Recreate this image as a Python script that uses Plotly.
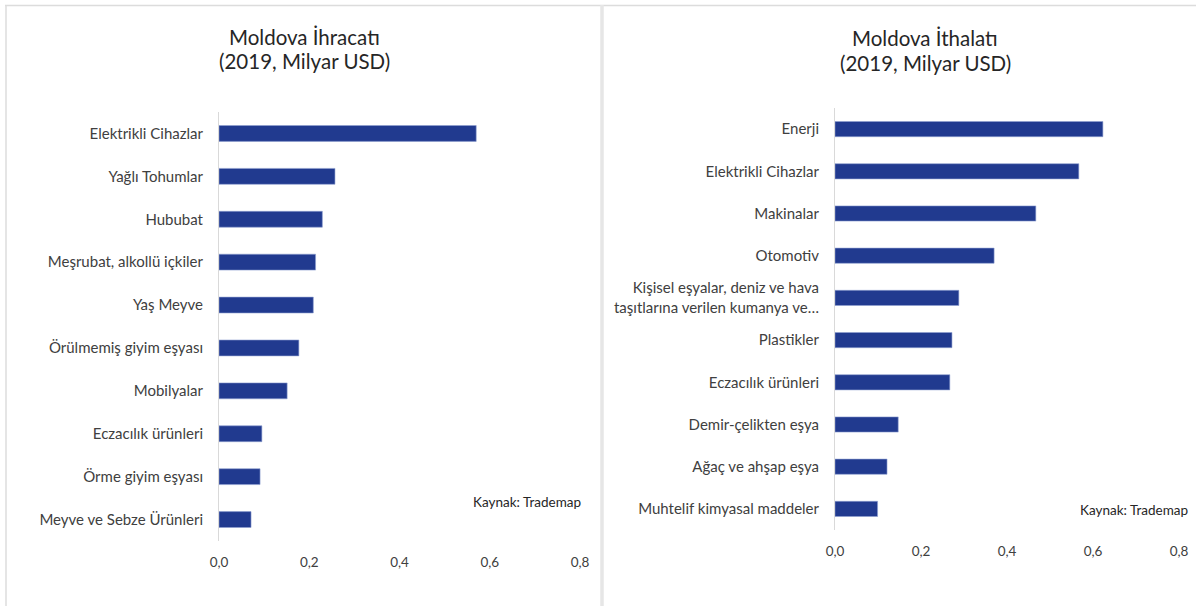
import plotly.graph_objects as go

W, H = 1196, 606

exp_categories = ["Elektrikli Cihazlar", "Yağlı Tohumlar", "Hububat", "Meşrubat, alkollü içkiler",
                  "Yaş Meyve", "Örülmemiş giyim eşyası", "Mobilyalar", "Eczacılık ürünleri",
                  "Örme giyim eşyası", "Meyve ve Sebze Ürünleri"]
exp_values = [0.570, 0.257, 0.229, 0.214, 0.209, 0.177, 0.151, 0.095, 0.091, 0.071]

imp_categories = ["Enerji", "Elektrikli Cihazlar", "Makinalar", "Otomotiv",
                  "Kişisel eşyalar, deniz ve hava<br>taşıtlarına verilen kumanya ve…",
                  "Plastikler", "Eczacılık ürünleri", "Demir-çelikten eşya",
                  "Ağaç ve ahşap eşya", "Muhtelif kimyasal maddeler"]
imp_values = [0.623, 0.567, 0.467, 0.370, 0.288, 0.272, 0.267, 0.147, 0.121, 0.099]

x_ticks = [0.0, 0.2, 0.4, 0.6, 0.8]

BAR = "#213a8f"
FONT = "Lato"
TXT = "#404040"

def px(x):
    return x / W

def py(y):
    return 1 - y / H

fig = go.Figure()
fig.add_trace(go.Bar(x=exp_values, y=exp_categories, orientation="h",
                     marker=dict(color=BAR, line=dict(color="#8fa0d0", width=0.6)),
                     width=0.37, xaxis="x", yaxis="y", showlegend=False))
fig.add_trace(go.Bar(x=imp_values, y=imp_categories, orientation="h",
                     marker=dict(color=BAR, line=dict(color="#8fa0d0", width=0.6)),
                     width=0.36, xaxis="x2", yaxis="y2", showlegend=False))

xcommon = dict(range=[0, 0.8], tickvals=x_ticks, tickformat=".1f", showgrid=False,
               zeroline=False, showline=False, ticks="", fixedrange=True, automargin=False,
               ticklabelstandoff=11,
               tickfont=dict(family=FONT, size=13.5, color=TXT))
ycommon = dict(autorange="reversed", showgrid=False, zeroline=False, showline=True,
               linecolor="#d9d9d9", linewidth=1, ticks="", ticklabelstandoff=12,
               automargin=False, fixedrange=True,
               tickfont=dict(family=FONT, size=15, color=TXT))

fig.update_layout(
    width=W, height=H, margin=dict(l=0, r=0, t=0, b=0, pad=0),
    paper_bgcolor="white", plot_bgcolor="white", separators=",.",
    xaxis=dict(domain=[px(219), px(580)], anchor="y", **xcommon),
    yaxis=dict(domain=[py(541), py(112)], anchor="x", **ycommon),
    xaxis2=dict(domain=[px(835), px(1179)], anchor="y2", **xcommon),
    yaxis2=dict(domain=[py(530), py(108)], anchor="x2", **ycommon),
    bargap=0.6,
)

annos = [
    dict(x=px(304), y=py(37), text="Moldova İhracatı", size=20.5),
    dict(x=px(304), y=py(61), text="(2019, Milyar USD)", size=20.5),
    dict(x=px(925), y=py(38), text="Moldova İthalatı", size=20.5),
    dict(x=px(925), y=py(63), text="(2019, Milyar USD)", size=20.5),
    dict(x=px(527), y=py(502), text="Kaynak: Trademap", size=13.5),
    dict(x=px(1134), y=py(510), text="Kaynak: Trademap", size=13.5),
]
for a in annos:
    fig.add_annotation(x=a["x"], y=a["y"], xref="paper", yref="paper", text=a["text"],
                       showarrow=False, xanchor="center", yanchor="middle",
                       font=dict(family=FONT, size=a["size"], color="#262626"))

line_col = "#dcdcdc"
fig.add_shape(type="line", xref="paper", yref="paper", x0=px(5), x1=1, y0=py(5.5), y1=py(5.5),
              line=dict(color=line_col, width=1.5))
fig.add_shape(type="line", xref="paper", yref="paper", x0=px(6), x1=px(6), y0=0, y1=py(5),
              line=dict(color=line_col, width=1.5))
fig.add_shape(type="line", xref="paper", yref="paper", x0=px(602), x1=px(602), y0=0, y1=py(5),
              line=dict(color="#e6e6e6", width=3.5))

fig.write_html("out.html", config={"displayModeBar": False},
               post_script="document.body.style.margin='0';document.body.style.overflow='hidden';")
